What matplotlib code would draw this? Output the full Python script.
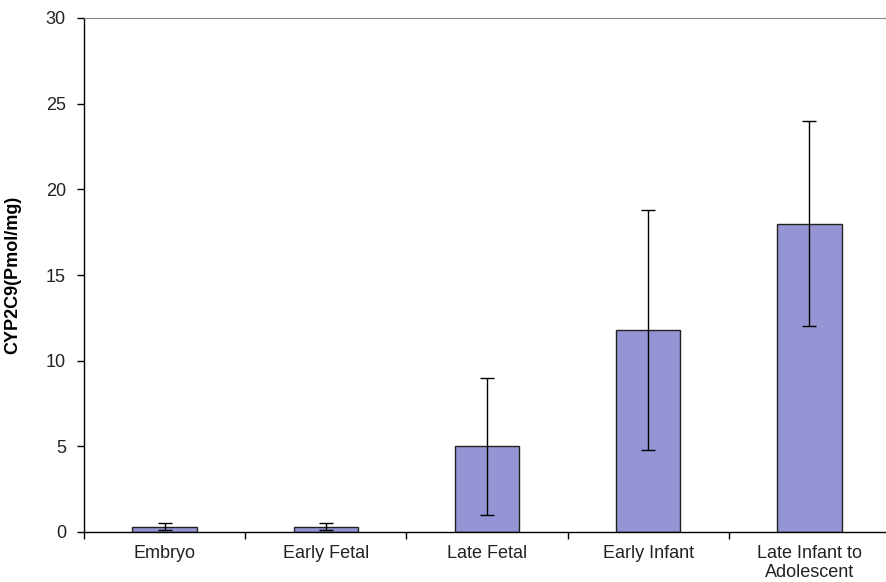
import matplotlib.pyplot as plt

plt.rcParams["font.family"] = ["Liberation Sans", "DejaVu Sans"]

# ===== DATA =====
stages = ["Embryo", "Early Fetal", "Late Fetal", "Early Infant", "Late Infant to\nAdolescent"]
mean_cyp = [0.3, 0.3, 5.0, 11.8, 18.0]
err_cyp = [0.2, 0.2, 4.0, 7.0, 6.0]

bar_color = "#9595d5"

fig = plt.figure(figsize=(8.86, 5.82), dpi=100)
ax = fig.add_axes([84 / 886, 50 / 582, 1 - 84 / 886 + 4 / 886, 514 / 582])

x = range(len(stages))
ax.bar(
    x, mean_cyp,
    width=0.4,
    color=bar_color,
    edgecolor="#222222",
    linewidth=1.0,
    zorder=2,
)
ax.errorbar(
    x, mean_cyp, yerr=err_cyp,
    fmt="none",
    ecolor="black",
    elinewidth=1.0,
    capsize=4.8,
    capthick=1.0,
    zorder=3,
)

ax.set_xlim(-0.5, 4.5)
ax.set_ylim(0, 30)
ax.set_yticks([0, 5, 10, 15, 20, 25, 30])

# category labels centred, tick marks between categories
ax.set_xticks([i + 0.5 for i in range(len(stages))][:-1] + [-0.5], minor=False)
ax.set_xticklabels([])
ax.set_xticks(list(x), minor=True)
ax.set_xticklabels(stages, minor=True, fontsize=13, color="#222222")
ax.tick_params(axis="x", which="minor", length=0, pad=9)
ax.tick_params(axis="x", which="major", direction="out", length=5, width=1)
ax.tick_params(axis="y", direction="out", length=5, width=1, labelsize=13, pad=8,
               labelcolor="#222222")

ax.set_ylabel("CYP2C9(Pmol/mg)", fontsize=13, fontweight="bold", labelpad=18)

ax.spines["right"].set_visible(False)
ax.spines["top"].set_color("#888888")
ax.spines["left"].set_linewidth(1.0)
ax.spines["bottom"].set_linewidth(1.0)

plt.savefig("out.png", dpi=100)
